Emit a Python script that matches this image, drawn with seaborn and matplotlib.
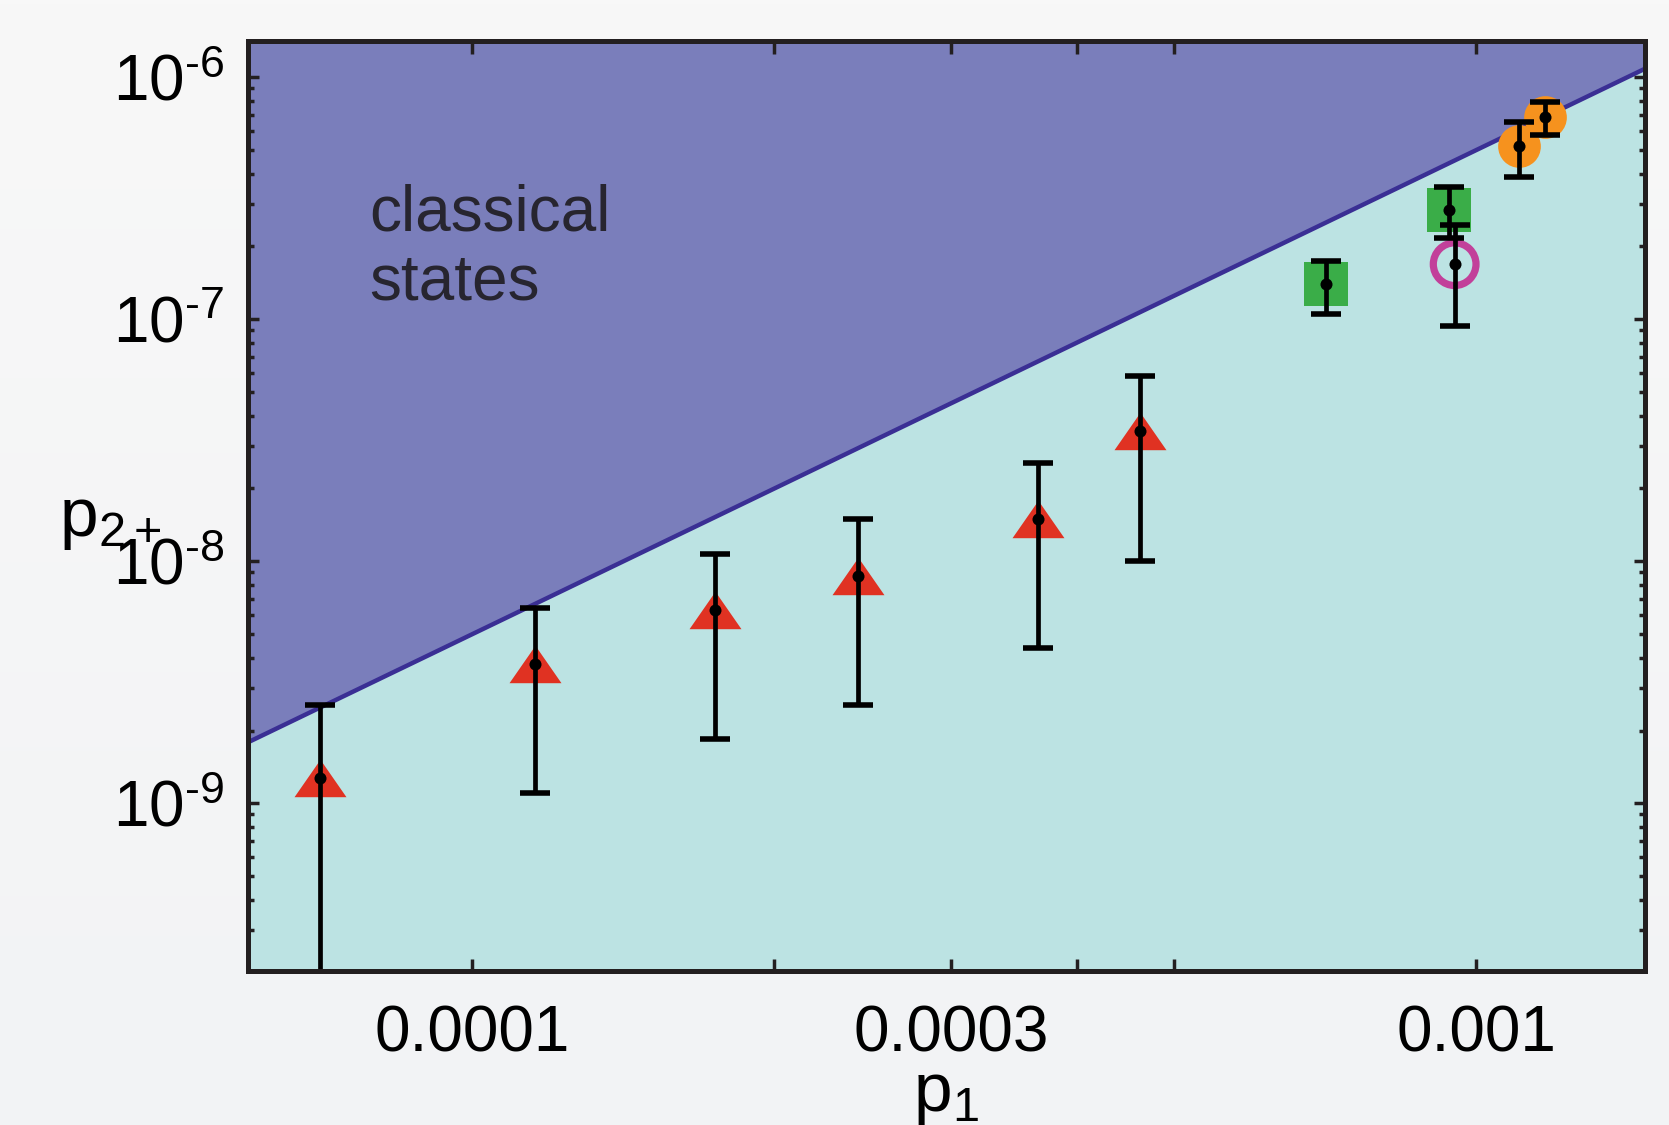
import numpy as np
import pandas as pd
import matplotlib
matplotlib.use('Agg')
import matplotlib.pyplot as plt
import seaborn as sns
from matplotlib.path import Path
from matplotlib.ticker import FixedLocator, NullFormatter, LogLocator, FixedFormatter

# ---------------- data ----------------
tri_p1 = [7.06e-5, 1.156e-4, 1.747e-4, 2.423e-4, 3.66e-4, 4.63e-4]
tri_p2 = [1.27e-9, 3.76e-9, 6.30e-9, 8.71e-9, 1.49e-8, 3.45e-8]
tri_lo = [1.0e-12, 1.10e-9, 1.85e-9, 2.56e-9, 4.38e-9, 1.00e-8]
tri_hi = [2.56e-9, 6.43e-9, 1.076e-8, 1.49e-8, 2.55e-8, 5.85e-8]

sq_p1 = [7.08e-4, 9.40e-4]
sq_p2 = [1.40e-7, 2.84e-7]
sq_lo = [1.05e-7, 2.16e-7]
sq_hi = [1.746e-7, 3.53e-7]

ring_p1 = [9.52e-4]
ring_p2 = [1.69e-7]
ring_lo = [9.37e-8]
ring_hi = [2.45e-7]

orange_p1 = [1.103e-3, 1.172e-3]
orange_p2 = [5.20e-7, 6.84e-7]
orange_lo = [3.86e-7, 5.75e-7]
orange_hi = [6.53e-7, 7.88e-7]

boundary_p1 = [5e-5, 2e-3]
boundary_p2 = [1.25e-9, 2.0e-6]

x_major = [1e-4, 3e-4, 1e-3]
x_major_labels = ['0.0001', '0.0003', '0.001']
x_minor = [2e-4, 4e-4, 5e-4]
y_major = [1e-9, 1e-8, 1e-7, 1e-6]
y_major_labels = [r'$\mathregular{10^{\text{-9}}}$', r'$\mathregular{10^{\text{-8}}}$',
                  r'$\mathregular{10^{\text{-7}}}$', r'$\mathregular{10^{\text{-6}}}$']

# ---------------- style ----------------
BG = '#f5f6f6'
UPPER = '#7a7ebb'
LOWER = '#bce3e3'
LINE = '#3a2f94'
RED = '#e03222'
GREEN = '#3aad48'
ORANGE = '#f6921e'
PINK = '#c2409a'
AXC = '#231f20'

sns.set_style('ticks')
plt.rcParams['font.family'] = ['Liberation Sans', 'DejaVu Sans']
plt.rcParams['mathtext.fontset'] = 'custom'
plt.rcParams['mathtext.rm'] = 'Liberation Sans'
plt.rcParams['mathtext.it'] = 'Liberation Sans:italic'
plt.rcParams['mathtext.bf'] = 'Liberation Sans:bold'
plt.rcParams['text.color'] = 'black'
plt.rcParams['axes.labelcolor'] = 'black'
plt.rcParams['xtick.labelcolor'] = 'black'
plt.rcParams['ytick.labelcolor'] = 'black'

fig = plt.figure(figsize=(16.69, 11.25), dpi=100, facecolor=BG)
# subtle background gradient (light top, slightly cooler bottom)
grad = np.linspace(0, 1, 256).reshape(-1, 1)
bgax = fig.add_axes([0, 0, 1, 1], zorder=-10)
bgax.imshow(grad, aspect='auto', cmap=matplotlib.colors.LinearSegmentedColormap.from_list(
    'bg', ['#f8f8f8', '#f2f3f5']), extent=[0, 1, 0, 1], origin='upper')
bgax.set_axis_off()

ax = fig.add_axes([0.1486, 0.1369, 0.837, 0.8267])
ax.set_xscale('log')
ax.set_yscale('log')
ax.set_facecolor(LOWER)

# classical region + boundary
ax.fill_between(boundary_p1, boundary_p2, 1e-3, color=UPPER, lw=0, zorder=0.5)
sns.lineplot(x=boundary_p1, y=boundary_p2, ax=ax, color=LINE, lw=3.2, zorder=1)

# markers
tri_marker = Path([(0, 0.72), (-1, -0.72), (1, -0.72), (0, 0.72)],
                  [Path.MOVETO, Path.LINETO, Path.LINETO, Path.CLOSEPOLY])
sns.scatterplot(x=tri_p1, y=tri_p2, ax=ax, marker=tri_marker, s=1400,
                color=RED, linewidth=0, zorder=2)
sns.scatterplot(x=sq_p1, y=sq_p2, ax=ax, marker='s', s=960,
                color=GREEN, linewidth=0, zorder=2)
sns.scatterplot(x=orange_p1, y=orange_p2, ax=ax, marker='o', s=945,
                color=ORANGE, linewidth=0, zorder=2)
ax.scatter(ring_p1, ring_p2, marker='o', s=945, facecolors='none',
           edgecolors=PINK, linewidths=5.2, zorder=2)

# error bars
for xs, ys, lo, hi in [(tri_p1, tri_p2, tri_lo, tri_hi),
                       (sq_p1, sq_p2, sq_lo, sq_hi),
                       (ring_p1, ring_p2, ring_lo, ring_hi),
                       (orange_p1, orange_p2, orange_lo, orange_hi)]:
    ys_a = np.array(ys)
    yerr = [ys_a - np.array(lo), np.array(hi) - ys_a]
    ax.errorbar(xs, ys, yerr=yerr, fmt='none', ecolor='black', elinewidth=3.4,
                capsize=11, capthick=4, zorder=4)

all_p1 = tri_p1 + sq_p1 + ring_p1 + orange_p1
all_p2 = tri_p2 + sq_p2 + ring_p2 + orange_p2
sns.scatterplot(x=all_p1, y=all_p2, ax=ax, color='black', s=75, linewidth=0, zorder=5)

ax.set_xlim(5.98e-5, 1.473e-3)
ax.set_ylim(2.03e-10, 1.413e-6)

# ticks
ax.xaxis.set_major_locator(FixedLocator(x_major))
ax.xaxis.set_major_formatter(FixedFormatter(x_major_labels))
ax.xaxis.set_minor_locator(FixedLocator(x_minor))
ax.xaxis.set_minor_formatter(NullFormatter())
ax.yaxis.set_major_locator(FixedLocator(y_major))
ax.yaxis.set_major_formatter(FixedFormatter(y_major_labels))
ax.yaxis.set_minor_locator(LogLocator(base=10, subs=np.arange(2, 10)))
ax.yaxis.set_minor_formatter(NullFormatter())

ax.tick_params(which='both', direction='in', top=True, right=True,
               color=AXC, width=2.5, labelcolor='black')
ax.tick_params(which='major', length=8)
ax.tick_params(axis='y', which='minor', length=4.5)
ax.tick_params(axis='x', which='both', length=9, pad=24, labelsize=46)
ax.tick_params(axis='y', which='major', pad=17, labelsize=46)

for sp in ax.spines.values():
    sp.set_color(AXC)
    sp.set_linewidth(3.6)
    sp.set_zorder(6)

ax.set_xlabel(r'p$_\mathregular{1}$', fontsize=50, color='black')
ax.xaxis.set_label_coords(0.4996, -0.133)
ax.xaxis.label.set_va('center')
ax.set_ylabel(r'p$_\mathregular{2+}$', fontsize=50, rotation=0, color='black')
ax.yaxis.set_label_coords(-0.0985, 0.485)
ax.yaxis.label.set_va('center')
ax.yaxis.label.set_ha('center')

ax.text(369 / 1669, 1 - 300 / 1125, 'classical\nstates', transform=fig.transFigure,
        fontsize=46, color='#27252f', ha='left', va='baseline', linespacing=1.2)

fig.savefig('out.png', dpi=100)
